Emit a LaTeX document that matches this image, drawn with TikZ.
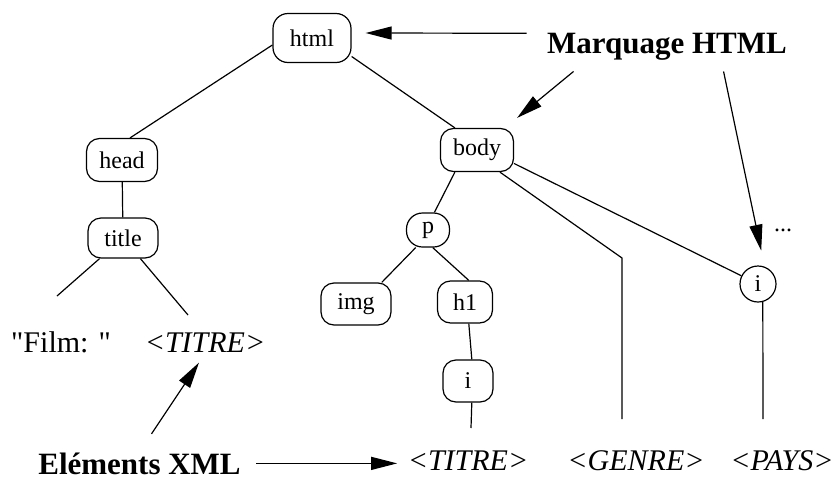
\documentclass[tikz,border=0pt]{standalone}
\usepackage{fontspec}
\setmainfont{Liberation Serif}
\usetikzlibrary{arrows.meta}

\tikzset{
  tag/.style={draw, rounded corners=13pt, minimum height=42pt, inner sep=0pt,
    font=\fontsize{24}{28}\selectfont},
  leaf/.style={anchor=base, inner sep=0pt, font=\fontsize{30}{34}\selectfont\itshape},
  callout/.style={anchor=base, inner sep=0pt, font=\fontsize{31}{36}\selectfont\bfseries},
  arr/.style={-{Triangle[length=26pt,width=13pt]}},
}

\begin{document}
\begin{tikzpicture}[x=1pt,y=-1pt,line width=1.2pt]
        \useasboundingbox (0,0) rectangle (839,480);

        % html tree
        \node[tag, minimum width=78pt, minimum height=49pt, rounded corners=15pt] (html) at (312,38) {html};
        \node[tag, minimum width=71pt, minimum height=43pt] (head) at (122,160) {head};
        \node[tag, minimum width=70pt, minimum height=40pt] (title) at (123,238) {title};
        \node[tag, minimum width=73pt, minimum height=43pt] (body) at (477,150) {body};
        \node[tag, minimum width=43pt, minimum height=34pt, rounded corners=16pt] (p) at (428,230) {p};
        \node[tag, minimum width=70pt] (img) at (356,304) {img};
        \node[tag, minimum width=55pt] (h1) at (465,302) {h1};
        \node[tag, minimum width=50pt] (ih1) at (468,381) {i};
        \node[tag, circle, minimum size=36pt] (ipays) at (758,284) {i};
        \node[anchor=base, inner sep=0pt, font=\fontsize{24}{28}\selectfont] (dots) at (783,231) {...};

        % free ends of the branches
        \coordinate (filmend) at (57,296);
        \coordinate (titreend) at (188,315);
        \coordinate (tend) at (471,428);
        \coordinate (genrebend) at (622,258);
        \coordinate (genreend) at (622,419);
        \coordinate (paysend) at (763,419);

        % branches
        \draw (html.190) -- (head.70);
        \draw (html.-25) -- (body.135);
        \draw (head) -- (title);
        \draw (title) -- (filmend);
        \draw (title) -- (titreend);
        \draw (body.-135) -- (p.70);
        \draw (p.-125) -- (img.40);
        \draw (p.-75) -- (h1.80);
        \draw (h1.-80) -- (ih1.80);
        \draw (ih1.-80) -- (tend);
        \draw (body.-44) -- (genrebend) -- (genreend);
        \draw (body.-20) -- (ipays);
        \draw (ipays.-75) -- (paysend);

        % leaves
        \node[leaf, font=\fontsize{30}{34}\selectfont] (film) at (61,352) {\textquotedbl Film: \textquotedbl};
        \node[leaf] (titre1) at (205,352) {<TITRE>};
        \node[leaf] (titre2) at (468,470) {<TITRE>};
        \node[leaf] (genre) at (636,470) {<GENRE>};
        \node[leaf] (pays) at (782,470) {<PAYS>};

        % captions and arrows
        \node[callout, inner xsep=20pt] (marq) at (667,53) {Marquage HTML};
        \node[callout] (elem) at (139.5,474) {Eléments XML};
        \draw[arr] ([yshift=13pt]marq.west) -- ([shift={(14pt,5pt)}]html.east);
        \draw[arr] ([shift={(47pt,-11pt)}]marq.south west) -- ([shift={(3pt,10pt)}]body.north east);
        \draw[arr] ([shift={(197pt,-11pt)}]marq.south west) -- ([yshift=15pt]ipays.80);
        \draw[arr] ([shift={(12pt,18pt)}]elem.north) -- ([shift={(-6pt,-10pt)}]titre1.south);
        \draw[arr, shorten <=15pt, shorten >=10pt] (elem.east) -- (elem.east -| titre2.west);
    \end{tikzpicture}
\end{document}
